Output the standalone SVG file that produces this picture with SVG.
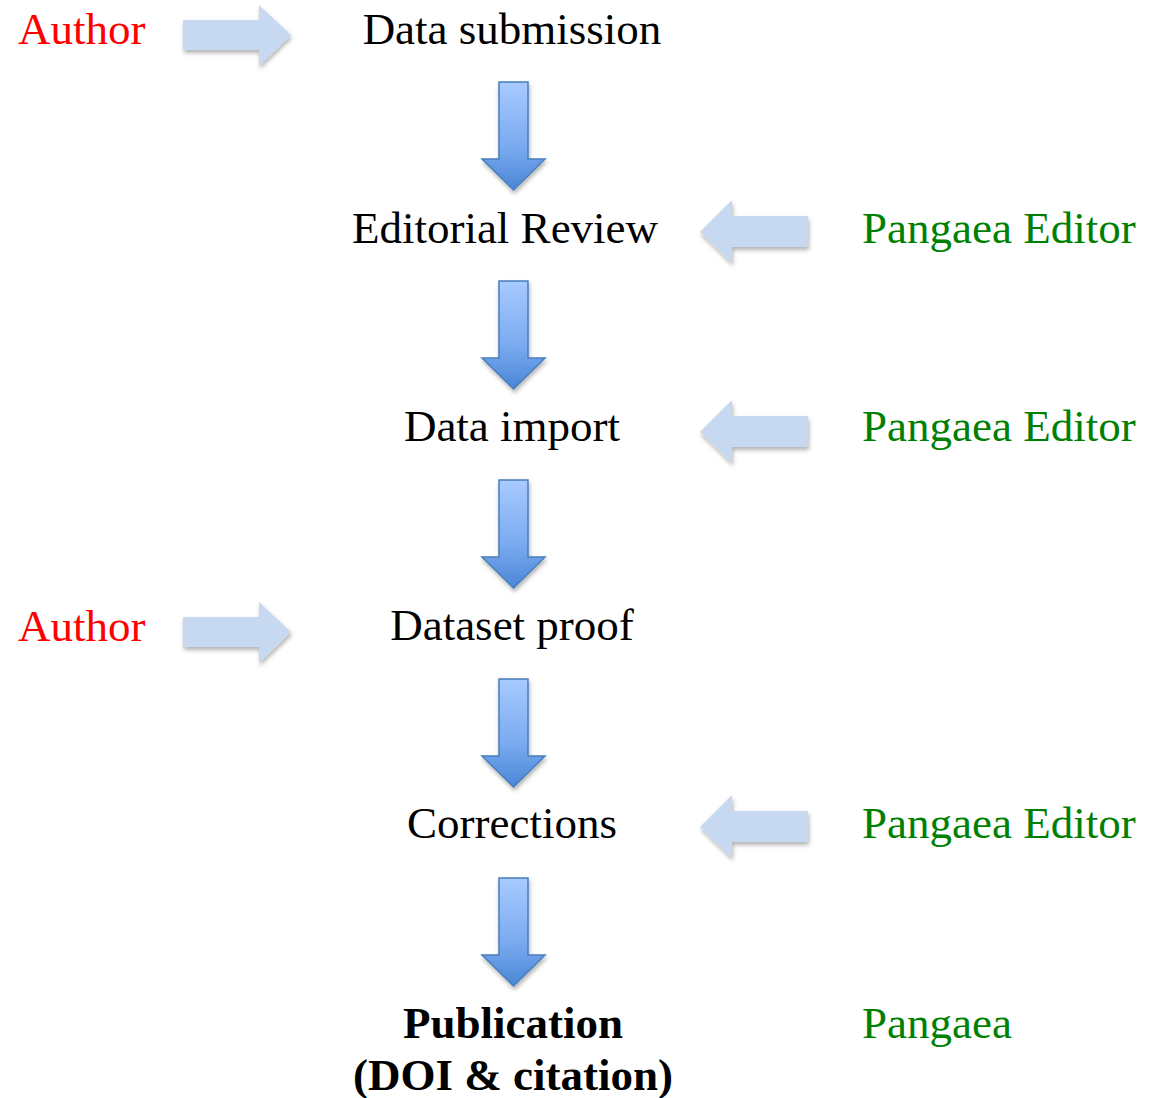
<svg xmlns="http://www.w3.org/2000/svg" width="1153" height="1098" viewBox="0 0 1153 1098">
<defs>
<style>
text{font-family:"Liberation Serif","Times New Roman",serif;font-size:45px}
.step{fill:#000;text-anchor:middle}
.author{fill:#ff0000}
.editor{fill:#008000}
.bold{font-weight:bold}
.side{fill:#c6d9f1;filter:url(#sh)}
.down{fill:url(#g);stroke:#4a7ebb;stroke-width:1.5;stroke-linejoin:miter;filter:url(#sh)}
</style>
<linearGradient id="g" x1="0" y1="0" x2="0" y2="1">
<stop offset="0" stop-color="#a8caff"/>
<stop offset="0.6" stop-color="#7aaaf0"/>
<stop offset="1" stop-color="#4a86d6"/>
</linearGradient>
<filter id="sh" x="-20%" y="-20%" width="150%" height="150%">
<feDropShadow dx="1" dy="3" stdDeviation="2" flood-color="#000" flood-opacity="0.3"/>
</filter>
<path id="ra" d="M0,-15 L76,-15 L76,-30 L108,0 L76,31 L76,15 L0,15 Z"/>
<path id="la" d="M0,0 L32,-32 L32,-16 L108,-16 L108,15 L32,15 L32,31 Z"/>
<path id="da" d="M-14.5,0 L14.5,0 L14.5,77 L31.5,77 L0,108 L-31.5,77 L-14.5,77 Z"/>
</defs>
<rect width="1153" height="1098" fill="#fff"/>
<g id="connectors">
<use href="#ra" class="side" x="183" y="35"/>
<use href="#ra" class="side" x="183" y="632"/>
<use href="#la" class="side" x="700" y="232"/>
<use href="#la" class="side" x="700" y="432"/>
<use href="#la" class="side" x="700" y="827"/>
<use href="#da" class="down" x="513.5" y="82"/>
<use href="#da" class="down" x="513.5" y="281"/>
<use href="#da" class="down" x="513.5" y="480"/>
<use href="#da" class="down" x="513.5" y="679"/>
<use href="#da" class="down" x="513.5" y="878"/>
</g>
<g id="author1"><text class="author" x="18" y="44">Author</text></g>
<g id="author2"><text class="author" x="18" y="641">Author</text></g>
<g id="data-submission"><text class="step" x="512" y="44">Data submission</text></g>
<g id="editorial-review"><text class="step" x="505" y="243">Editorial Review</text></g>
<g id="data-import"><text class="step" x="512" y="441">Data import</text></g>
<g id="dataset-proof"><text class="step" x="512" y="640">Dataset proof</text></g>
<g id="corrections"><text class="step" x="512" y="838">Corrections</text></g>
<g id="publication"><text class="step bold" x="513" y="1038">Publication</text><text class="step bold" x="513" y="1090">(DOI &amp; citation)</text></g>
<g id="editor1"><text class="editor" x="862" y="243">Pangaea Editor</text></g>
<g id="editor2"><text class="editor" x="862" y="441">Pangaea Editor</text></g>
<g id="editor3"><text class="editor" x="862" y="838">Pangaea Editor</text></g>
<g id="pangaea"><text class="editor" x="862" y="1038">Pangaea</text></g>
</svg>
